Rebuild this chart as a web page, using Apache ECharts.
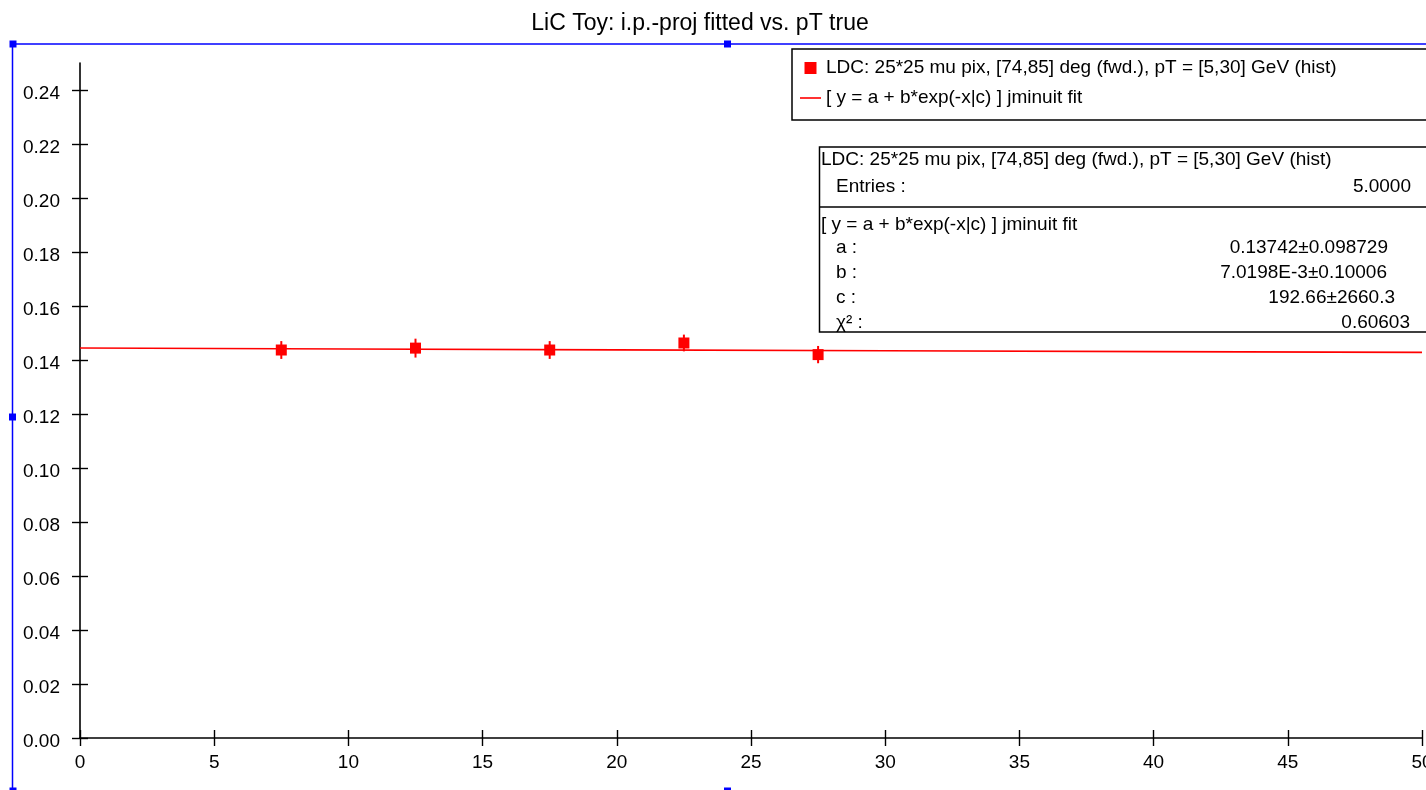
<!DOCTYPE html>
<html>
<head>
<meta charset="utf-8">
<script src="https://cdn.jsdelivr.net/npm/echarts@6/dist/echarts.min.js"></script>
<style>
  html, body { margin: 0; padding: 0; background: #ffffff; }
  #chart { width: 1426px; height: 790px; }
</style>
</head>
<body>
<div id="chart"></div>
<script>
// Binned impact-parameter projection vs. true pT
const ptBins = [7.5, 12.5, 17.5, 22.5, 27.5];
const ipProj = [0.1437, 0.1444, 0.1437, 0.1463, 0.1420];
const ipProjErr = [0.0033, 0.0035, 0.0033, 0.0031, 0.0032];

// Sampled fit curve y = a + b*exp(-x/c)
const fitX = [0, 10, 20, 30, 40, 50];
const fitY = [0.14444, 0.14409, 0.14375, 0.14343, 0.14312, 0.14284];

// Axis ticks
const xTicks = [0, 5, 10, 15, 20, 25, 30, 35, 40, 45, 50];
const yTicks = [0, 0.02, 0.04, 0.06, 0.08, 0.10, 0.12, 0.14, 0.16, 0.18, 0.20, 0.22, 0.24];

// Texts
const titleText = 'LiC Toy: i.p.-proj fitted vs. pT true';
const histName = 'LDC: 25*25 mu pix, [74,85] deg (fwd.), pT = [5,30] GeV (hist)';
const fitName = '[ y = a + b*exp(-x|c) ] jminuit fit';
const histStatLabels = ['Entries :'];
const histStatValues = ['5.0000'];
const fitStatLabels = ['a :', 'b :', 'c :', 'χ² :'];
const fitStatValues = ['0.13742±0.098729', '7.0198E-3±0.10006', '192.66±2660.3', '0.60603'];

const FONT = '"Liberation Sans", Arial, Helvetica, sans-serif';
const RED = '#ff0000';
const BLUE = '#0000ff';

const chart = echarts.init(document.getElementById('chart'), null, { renderer: 'canvas' });

const errData = ptBins.map((x, i) => [x, ipProj[i] - ipProjErr[i], ipProj[i] + ipProjErr[i]]);
const pointData = ptBins.map((x, i) => [x, ipProj[i]]);
const fitData = fitX.map((x, i) => [x, fitY[i]]);

const tickStyle = { color: '#000', width: 1.4 };
const axisCommon = {
  type: 'value',
  splitLine: { show: false },
  axisLine: { show: true, onZero: false, lineStyle: { color: '#000', width: 1.6 } }
};

// Stats box text elements
const statsText = [];
function addText(text, x, y, align) {
  statsText.push({
    type: 'text', silent: true, z: 101,
    style: { text: text, x: x, y: y, font: '19px ' + FONT, fill: '#000', textAlign: align, textVerticalAlign: 'middle' }
  });
}
addText(histName, 821, 160, 'left');
const histRowY = [187];
const histRightX = [1411];
histStatLabels.forEach((l, i) => { addText(l, 836, histRowY[i], 'left'); addText(histStatValues[i], histRightX[i], histRowY[i], 'right'); });
addText(fitName, 821, 225, 'left');
const fitRowY = [248, 273, 298, 323];
const fitRightX = [1388, 1387, 1395, 1410];
fitStatLabels.forEach((l, i) => { addText(l, 836, fitRowY[i], 'left'); addText(fitStatValues[i], fitRightX[i], fitRowY[i], 'right'); });

// Selection frame handles
function handle(cx, cy) {
  return { type: 'rect', silent: true, z: 200, shape: { x: cx - 3.5, y: cy - 3.5, width: 7, height: 7 }, style: { fill: BLUE } };
}

const option = {
  backgroundColor: '#ffffff',
  animation: false,
  textStyle: { fontFamily: FONT },
  title: {
    text: titleText,
    left: 695,
    textAlign: 'center',
    top: 7,
    textStyle: { fontFamily: FONT, fontSize: 23, fontWeight: 'normal', color: '#000' }
  },
  legend: {
    orient: 'vertical',
    left: 800,
    top: 58,
    padding: 0,
    itemWidth: 21,
    itemHeight: 12,
    itemGap: 10,
    symbolKeepAspect: true,
    selectedMode: false,
    textStyle: { fontFamily: FONT, fontSize: 19, color: '#000', lineHeight: 20 },
    data: [
      { name: histName, icon: 'path://M0,0H11V11H0Z', itemStyle: { color: RED, opacity: 1 } },
      { name: fitName, icon: 'path://M0,0H21V1.6H0Z', itemStyle: { color: RED, opacity: 1 } }
    ]
  },
  grid: { left: 80, right: 4, top: 63, bottom: 52, containLabel: false, outerBoundsMode: 'none' },
  xAxis: [
    Object.assign({}, axisCommon, {
      min: 0, max: 50, interval: 5, position: 'bottom',
      axisTick: { show: true, length: 8, customValues: xTicks, lineStyle: tickStyle },
      axisLabel: { show: true, margin: 15, fontSize: 19, color: '#000', fontFamily: FONT,
        customValues: xTicks, formatter: v => String(v) }
    }),
    Object.assign({}, axisCommon, {
      min: 0, max: 50, interval: 5, position: 'bottom', offset: 0,
      axisLine: { show: false },
      axisTick: { show: true, inside: true, length: 8, customValues: xTicks, lineStyle: tickStyle },
      axisLabel: { show: false }
    })
  ],
  yAxis: [
    Object.assign({}, axisCommon, {
      min: 0, max: 0.25, position: 'left',
      axisTick: { show: true, length: 8, customValues: yTicks, lineStyle: tickStyle },
      axisLabel: { show: true, margin: 20, fontSize: 19, color: '#000', fontFamily: FONT,
        verticalAlign: 'top', lineHeight: 8,
        customValues: yTicks, formatter: v => v.toFixed(2) }
    }),
    Object.assign({}, axisCommon, {
      min: 0, max: 0.25, position: 'left', offset: 0,
      axisLine: { show: false },
      axisTick: { show: true, inside: true, length: 8, customValues: yTicks, lineStyle: tickStyle },
      axisLabel: { show: false }
    })
  ],
  series: [
    {
      name: fitName,
      type: 'line',
      xAxisIndex: 0, yAxisIndex: 0,
      data: fitData,
      showSymbol: false,
      symbol: 'none',
      smooth: false,
      lineStyle: { color: RED, width: 1.6 },
      itemStyle: { color: RED },
      z: 2
    },
    {
      name: 'errors',
      type: 'custom',
      xAxisIndex: 0, yAxisIndex: 0,
      data: errData,
      z: 3,
      renderItem: function (params, api) {
        const p1 = api.coord([api.value(0), api.value(1)]);
        const p2 = api.coord([api.value(0), api.value(2)]);
        return {
          type: 'line',
          shape: { x1: p1[0], y1: p1[1], x2: p2[0], y2: p2[1] },
          style: { stroke: RED, lineWidth: 2 }
        };
      }
    },
    {
      name: histName,
      type: 'scatter',
      xAxisIndex: 0, yAxisIndex: 0,
      data: pointData,
      symbol: 'rect',
      symbolSize: 11,
      itemStyle: { color: RED, opacity: 1 },
      z: 4
    }
  ],
  graphic: [
    // legend frame
    { type: 'rect', silent: true, z: -1, shape: { x: 792, y: 49, width: 700, height: 71 },
      style: { fill: '#fff', stroke: '#000', lineWidth: 1.5 } },
    // statistics box
    { type: 'rect', silent: true, z: 100, shape: { x: 819.5, y: 147, width: 700, height: 185 },
      style: { fill: '#fff', stroke: '#000', lineWidth: 1.5 } },
    { type: 'line', silent: true, z: 100, shape: { x1: 819.5, y1: 207, x2: 1500, y2: 207 },
      style: { stroke: '#000', lineWidth: 1.5 } }
  ].concat(statsText).concat([
    // selection frame
    { type: 'line', silent: true, z: 199, shape: { x1: 12.5, y1: 44, x2: 1443, y2: 44 }, style: { stroke: BLUE, lineWidth: 1.5 } },
    { type: 'line', silent: true, z: 199, shape: { x1: 12.5, y1: 44, x2: 12.5, y2: 791 }, style: { stroke: BLUE, lineWidth: 1.5 } },
    handle(13, 44), handle(727.5, 44), handle(12.5, 417), handle(727.5, 791), handle(13, 791)
  ])
};

chart.setOption(option);
</script>
</body>
</html>
